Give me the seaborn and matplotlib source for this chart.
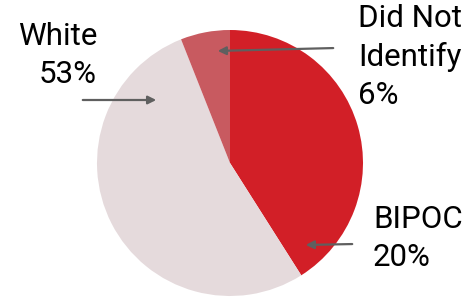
import matplotlib
matplotlib.use('Agg')
import matplotlib.pyplot as plt
import seaborn as sns

# slice sizes (percent of the circle)
groups = ['BIPOC', 'White', 'Did Not Identify']
shares = [41, 53, 6]
# label text as printed on the chart
label_texts = ['BIPOC\n20%', 'White\n53%', 'Did Not\nIdentify\n6%']
colors = ['#D21F27', '#E5DADC', '#C85A60']

sns.set_theme(style='white')
plt.rcParams['font.family'] = ['Roboto', 'DejaVu Sans']

W, H = 466, 297
fig = plt.figure(figsize=(W / 100, H / 100), dpi=100)
ax = fig.add_axes([0, 0, 1, 1])

# pie in pixel-like coordinates (y measured from the bottom)
ax.pie(shares, colors=colors, startangle=90, counterclock=False,
       center=(230, H - 163), radius=133, frame=True,
       wedgeprops=dict(linewidth=0))
ax.set_xlim(0, W)
ax.set_ylim(0, H)
ax.set_aspect('equal')
ax.axis('off')

arrow = dict(arrowstyle='-|>', color='#5f5f5f', lw=1.6, mutation_scale=12)

# labels: (text position, alignment, arrow tail, arrow head)
label_pos = [(373, H - 205), (97, H - 22), (358, H - 4)]
aligns = ['left', 'right', 'left']
tails = [(355, H - 244), (80, H - 100), (336, H - 48)]
heads = [(303, H - 245), (159, H - 100), (215, H - 51)]

for txt, (tx, ty), ha, tail, head in zip(label_texts, label_pos, aligns, tails, heads):
    ax.text(tx, ty, txt, fontsize=22.5, color='black', ha=ha, va='top',
            linespacing=1.38)
    ax.annotate('', xy=head, xytext=tail, arrowprops=arrow)

fig.savefig('out.png', dpi=100)
